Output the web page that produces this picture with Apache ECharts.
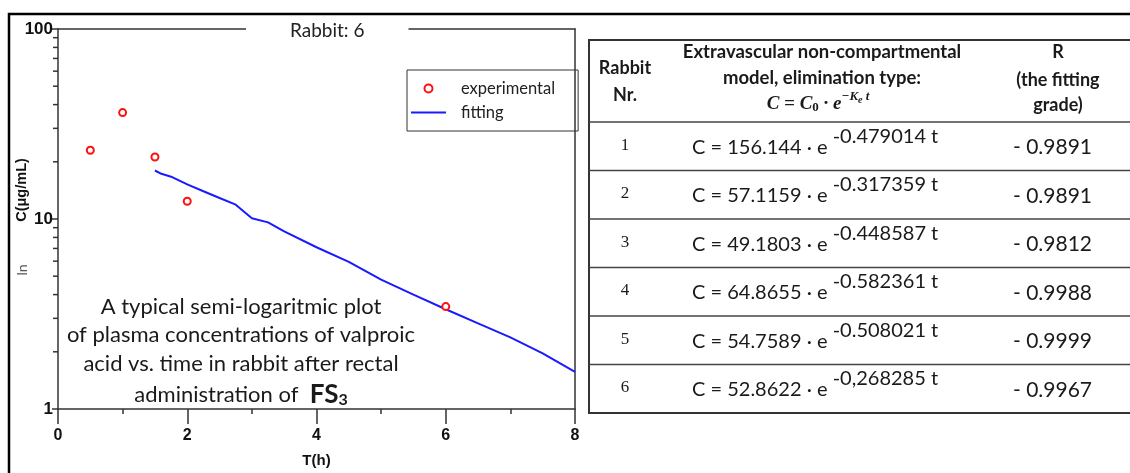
<!DOCTYPE html>
<html>
<head>
<meta charset="utf-8">
<script src="https://cdn.jsdelivr.net/npm/echarts@6/dist/echarts.min.js"></script>
<style>
html,body{margin:0;padding:0;background:#fff;}
#c{width:1130px;height:473px;}
</style>
</head>
<body>
<div id="c"></div>
<script>
// ---------- data ----------
const chartTitle = 'Rabbit: 6';
const expT = [0.5, 1, 1.5, 2, 6];
const expC = [23.0, 36.3, 21.2, 12.4, 3.46];
const fitT = [1.5, 1.6, 1.75, 2, 2.25, 2.5, 2.75, 3, 3.25, 3.5, 4, 4.5, 5, 5.5, 6, 6.5, 7, 7.5, 8];
const fitC = [18.0, 17.3, 16.7, 15.2, 14.0, 12.9, 11.9, 10.1, 9.6, 8.6, 7.1, 5.95, 4.8, 4.0, 3.35, 2.82, 2.38, 1.96, 1.57];
const yMinorTicks = [2, 3, 4, 5, 6, 7, 8, 9, 20, 30, 40, 50, 60, 70, 80, 90];
const annotationLines = ['A typical semi-logaritmic plot', 'of plasma concentrations of valproic', 'acid vs. time in rabbit after rectal'];

const rabbitNr = ['1', '2', '3', '4', '5', '6'];
const c0Values = ['156.144', '57.1159', '49.1803', '64.8655', '54.7589', '52.8622'];
const keValues = ['-0.479014', '-0.317359', '-0.448587', '-0.582361', '-0.508021', '-0,268285'];
const rValues = ['- 0.9891', '- 0.9891', '- 0.9812', '- 0.9988', '- 0.9999', '- 0.9967'];

// ---------- layout ----------
const narrow = '"Liberation Sans Narrow", "Liberation Sans", Arial, sans-serif';
const sans = 'Lato, "Open Sans", sans-serif';
const serif = '"Liberation Serif", "DejaVu Serif", serif';
const axisColor = '#333';

const tbl = { x0: 589, x1: 1140, top: 40, head: 122, rowH: 48.5 };
const colNr = 625, colEq = 692, colR = 1013;

const graphics = [];
// outer frame
graphics.push({ type: 'rect', shape: { x: 9, y: 14, width: 1200, height: 500 }, style: { fill: 'none', stroke: '#000', lineWidth: 2.5 }, z: 10 });
// table lines
const tblBottom = tbl.head + tbl.rowH * rabbitNr.length;
graphics.push({ type: 'rect', shape: { x: tbl.x0, y: tbl.top, width: tbl.x1 - tbl.x0, height: tblBottom - tbl.top }, style: { fill: 'none', stroke: '#333', lineWidth: 2 } });
for (let i = 0; i < rabbitNr.length; i++) {
  const yl = tbl.head + tbl.rowH * i;
  graphics.push({ type: 'line', shape: { x1: tbl.x0, y1: yl, x2: tbl.x1, y2: yl }, style: { stroke: '#444', lineWidth: 1.6 } });
}
function txt(x, y, text, font, opts) {
  return { type: 'text', x: x, y: y, style: Object.assign({ text: text, font: font, fill: '#1a1a1a', align: 'center', verticalAlign: 'middle', textAlign: 'center', textVerticalAlign: 'middle' }, opts || {}) };
}
// header
const hb = 'bold 18px ' + sans;
graphics.push(txt(colNr, 68, 'Rabbit', hb));
graphics.push(txt(colNr, 95, 'Nr.', hb));
graphics.push(txt(822, 52, 'Extravascular non-compartmental', 'bold 18.5px ' + sans));
graphics.push(txt(822, 78, 'model, elimination type:', 'bold 18.5px ' + sans));
graphics.push(txt(1058, 52, 'R', hb));
graphics.push(txt(1058, 80, '(the fitting', hb));
graphics.push(txt(1058, 105, 'grade)', hb));
graphics.push({
  type: 'text', x: 818, y: 104,
  style: {
    text: '{a|C = C}{b|0}{a| · e}{c|−K}{d|e}{c| t}',
    align: 'center', verticalAlign: 'middle', textAlign: 'center', textVerticalAlign: 'middle',
    rich: {
      a: { fontFamily: serif, fontStyle: 'italic', fontWeight: 'bold', fontSize: 19, fill: '#1a1a1a' },
      b: { fontFamily: serif, fontWeight: 'bold', fontSize: 13, fill: '#1a1a1a', padding: [7, 0, 0, 0] },
      c: { fontFamily: serif, fontStyle: 'italic', fontWeight: 'bold', fontSize: 13, fill: '#1a1a1a', padding: [0, 0, 14, 0] },
      d: { fontFamily: serif, fontStyle: 'italic', fontWeight: 'bold', fontSize: 10, fill: '#1a1a1a', padding: [0, 0, 8, 0] }
    }
  }
});
// rows
for (let i = 0; i < rabbitNr.length; i++) {
  const cy = tbl.head + tbl.rowH * i + tbl.rowH / 2 + 1;
  graphics.push(txt(colNr, cy - 2, rabbitNr[i], '17px ' + serif));
  graphics.push({
    type: 'text', x: colEq, y: cy,
    style: {
      text: '{m|C = ' + c0Values[i] + ' · e }{s|' + keValues[i] + ' t}',
      align: 'left', verticalAlign: 'middle', textAlign: 'left', textVerticalAlign: 'middle',
      rich: {
        m: { fontFamily: sans, fontSize: 20, fill: '#1a1a1a' },
        s: { fontFamily: sans, fontSize: 20, fill: '#1a1a1a', padding: [0, 0, 22, 0] }
      }
    }
  });
  graphics.push(txt(colR, cy, rValues[i], '21px ' + sans, { align: 'left', textAlign: 'left' }));
}
// axis name texts
graphics.push({ type: 'text', x: 22, y: 190, rotation: Math.PI / 2, style: { text: 'C(μg/mL)', font: 'bold 14.5px ' + narrow, fill: '#111', align: 'center', verticalAlign: 'middle', textAlign: 'center', textVerticalAlign: 'middle' } });
graphics.push({ type: 'text', x: 22, y: 270, rotation: Math.PI / 2, style: { text: 'ln', font: '14px ' + sans, fill: '#555', align: 'center', verticalAlign: 'middle', textAlign: 'center', textVerticalAlign: 'middle' } });
// annotation
const annY = [307, 335, 364];
annotationLines.forEach((s, i) => graphics.push(txt(241, annY[i], s, '22px ' + sans)));
graphics.push({
  type: 'text', x: 241, y: 395,
  style: {
    text: '{n|administration of  }{b|FS}{s|3}',
    align: 'center', verticalAlign: 'middle', textAlign: 'center', textVerticalAlign: 'middle',
    rich: {
      n: { fontFamily: sans, fontSize: 22, fill: '#1a1a1a' },
      b: { fontFamily: sans, fontSize: 26, fontWeight: 'bold', fill: '#1a1a1a' },
      s: { fontFamily: sans, fontSize: 16, fontWeight: 'bold', fill: '#1a1a1a', padding: [10, 0, 0, 0] }
    }
  }
});

const chart = echarts.init(document.getElementById('c'), null, { renderer: 'canvas' });
chart.setOption({
  animation: false,
  backgroundColor: '#fff',
  title: {
    text: chartTitle, left: 246, top: 18,
    padding: [3, 44, 3, 44], backgroundColor: '#fff',
    textStyle: { fontFamily: sans, fontSize: 19, fontWeight: 'normal', color: '#222', lineHeight: 20 }
  },
  grid: { left: 58, right: 555, top: 29, bottom: 58, containLabel: false },
  legend: {
    left: 407, top: 70, orient: 'vertical',
    borderColor: '#333', borderWidth: 1, borderRadius: 0,
    padding: [10, 23, 10, 3], itemWidth: 35, itemHeight: 8, itemGap: 7,
    textStyle: { fontFamily: sans, fontSize: 16.5, color: '#222', lineHeight: 14, padding: [0, 0, 0, 10] },
    data: [
      { name: 'experimental' },
      { name: 'fitting', itemStyle: { opacity: 0 } }
    ]
  },
  xAxis: [{
    type: 'value', min: 0, max: 8, interval: 2,
    name: 'T(h)', nameLocation: 'middle', nameGap: 44,
    nameTextStyle: { fontFamily: narrow, fontWeight: 'bold', fontSize: 15, color: '#111' },
    axisLine: { show: true, onZero: false, lineStyle: { color: axisColor, width: 1.5 } },
    axisTick: { show: true, length: 15, lineStyle: { color: axisColor, width: 1.5 } },
    minorTick: { show: true, splitNumber: 2, length: 5, lineStyle: { color: axisColor, width: 1.5 } },
    axisLabel: { margin: 19, fontFamily: narrow, fontWeight: 'bold', fontSize: 16, color: '#111' },
    splitLine: { show: false }
  }, {
    type: 'value', min: 0, max: 8, position: 'top',
    axisLine: { show: true, onZero: false, lineStyle: { color: axisColor, width: 1.5 } },
    axisTick: { show: false }, axisLabel: { show: false }, splitLine: { show: false }
  }],
  yAxis: [{
    type: 'log', logBase: 10, min: 1, max: 100,
    axisLine: { show: true, onZero: false, lineStyle: { color: axisColor, width: 1.5 } },
    axisTick: { show: true, length: 6, lineStyle: { color: axisColor, width: 1.5 } },
    axisLabel: { margin: 5, fontFamily: narrow, fontWeight: 'bold', fontSize: 17, color: '#111' },
    splitLine: { show: false }
  }, {
    type: 'log', logBase: 10, min: 1, max: 100, position: 'right',
    axisLine: { show: true, onZero: false, lineStyle: { color: axisColor, width: 1.5 } },
    axisTick: { show: false }, axisLabel: { show: false }, splitLine: { show: false }
  }],
  series: [{
    name: 'experimental', type: 'scatter', symbol: 'circle', symbolSize: 7,
    itemStyle: { color: '#fff', borderColor: '#ff1010', borderWidth: 2, opacity: 1 },
    data: expT.map((t, i) => [t, expC[i]]), z: 5
  }, {
    name: 'fitting', type: 'line', symbol: 'none', smooth: false,
    lineStyle: { color: '#1a1aff', width: 2 }, itemStyle: { color: '#1a1aff' },
    data: fitT.map((t, i) => [t, fitC[i]]), z: 4
  }, {
    name: 'ytick', type: 'custom', clip: false, silent: true,
    data: yMinorTicks.map(v => [0, v]),
    renderItem: function (params, api) {
      const p = api.coord([api.value(0), api.value(1)]);
      return { type: 'line', shape: { x1: p[0] - 5, y1: p[1], x2: p[0], y2: p[1] }, style: { stroke: axisColor, lineWidth: 1.5 } };
    }
  }],
  graphic: graphics
});
</script>
</body>
</html>
